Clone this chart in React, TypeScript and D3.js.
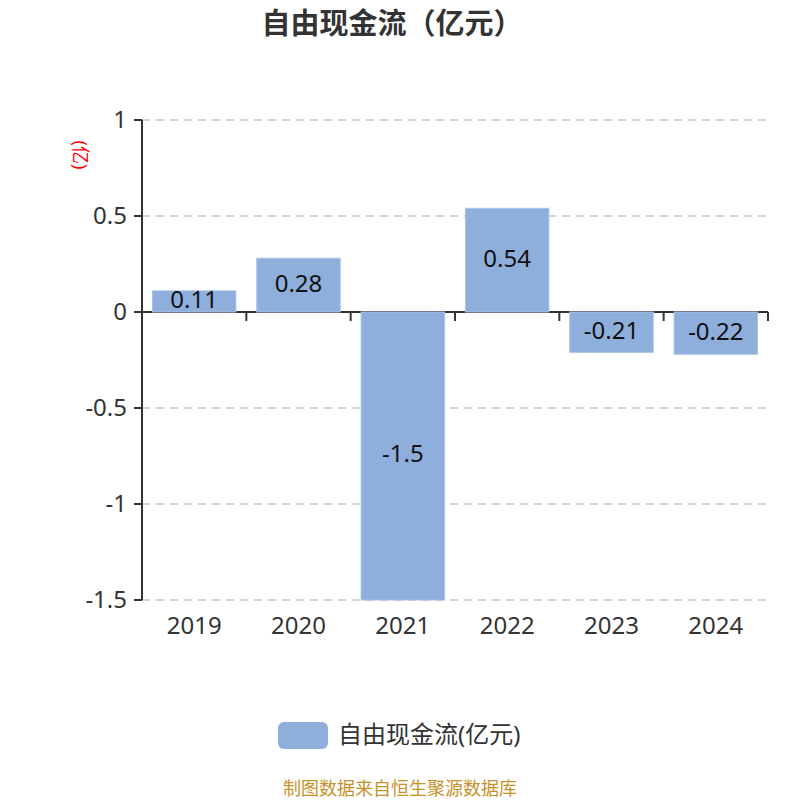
import React, { useRef, useEffect } from 'react';
import * as d3 from 'd3';

const years = ['2019', '2020', '2021', '2022', '2023', '2024'];
const values = [0.11, 0.28, -1.5, 0.54, -0.21, -0.22];
const yTicks = [1, 0.5, 0, -0.5, -1, -1.5];

const FONT = '"Noto Sans", "Noto Sans CJK SC", sans-serif';
const BAR_COLOR = '#8eaedb';
const TEXT_COLOR = '#333';

function drawChart(svgEle: SVGSVGElement) {
  const svg = d3.select(svgEle);
  svg.selectAll('*').remove();

  const margin = { top: 120, right: 32, bottom: 200, left: 142 };
  const width = 800 - margin.left - margin.right;
  const height = 800 - margin.top - margin.bottom;

  const x = d3
    .scaleBand()
    .domain(years)
    .range([margin.left, margin.left + width])
    .paddingInner(0.2)
    .paddingOuter(0.1);
  const y = d3
    .scaleLinear()
    .domain([-1.5, 1])
    .range([margin.top + height, margin.top]);

  // 标题
  svg
    .append('text')
    .attr('x', 392)
    .attr('y', 34)
    .attr('text-anchor', 'middle')
    .attr('font-size', 29)
    .attr('font-weight', 'bold')
    .attr('fill', TEXT_COLOR)
    .text('自由现金流（亿元）');

  // y 轴单位
  svg
    .append('text')
    .attr('transform', 'translate(74, 155) rotate(90)')
    .attr('text-anchor', 'middle')
    .attr('font-size', 18)
    .attr('fill', 'red')
    .text('(亿)');

  // 网格线
  svg
    .selectAll()
    .data(yTicks.filter((d) => d !== 0))
    .enter()
    .append('line')
    .attr('x1', margin.left)
    .attr('x2', margin.left + width)
    .attr('y1', (d) => y(d))
    .attr('y2', (d) => y(d))
    .attr('stroke', '#c8c8c8')
    .attr('stroke-width', 1.5)
    .attr('stroke-dasharray', '8,6');

  // y 轴
  svg
    .append('line')
    .attr('x1', margin.left)
    .attr('x2', margin.left)
    .attr('y1', margin.top)
    .attr('y2', margin.top + height)
    .attr('stroke', TEXT_COLOR)
    .attr('stroke-width', 2);
  svg
    .selectAll()
    .data(yTicks)
    .enter()
    .append('line')
    .attr('x1', margin.left - 8)
    .attr('x2', margin.left)
    .attr('y1', (d) => y(d))
    .attr('y2', (d) => y(d))
    .attr('stroke', TEXT_COLOR)
    .attr('stroke-width', 2);
  svg
    .selectAll()
    .data(yTicks)
    .enter()
    .append('text')
    .attr('x', margin.left - 15)
    .attr('y', (d) => y(d))
    .attr('dy', '0.35em')
    .attr('text-anchor', 'end')
    .attr('font-size', 24)
    .attr('fill', TEXT_COLOR)
    .text((d) => String(d));

  // x 轴（零线）
  const step = x.step();
  const boundaries = years.map((d) => (x(d) as number) - (step * x.paddingInner()) / 2).slice(1);
  boundaries.push(margin.left + width);
  svg
    .append('line')
    .attr('x1', margin.left)
    .attr('x2', margin.left + width)
    .attr('y1', y(0))
    .attr('y2', y(0))
    .attr('stroke', TEXT_COLOR)
    .attr('stroke-width', 2);
  svg
    .selectAll()
    .data(boundaries)
    .enter()
    .append('line')
    .attr('x1', (d) => d)
    .attr('x2', (d) => d)
    .attr('y1', y(0))
    .attr('y2', y(0) + 9)
    .attr('stroke', TEXT_COLOR)
    .attr('stroke-width', 2);

  // 柱子
  svg
    .selectAll()
    .data(values)
    .enter()
    .append('rect')
    .attr('x', (_d, i) => x(years[i]) as number)
    .attr('y', (d) => y(Math.max(0, d)))
    .attr('width', x.bandwidth())
    .attr('height', (d) => Math.abs(y(d) - y(0)))
    .attr('fill', BAR_COLOR)
    .attr('stroke', '#a9c1e6')
    .attr('stroke-width', 1);

  // 柱子数值
  svg
    .selectAll()
    .data(values)
    .enter()
    .append('text')
    .attr('x', (_d, i) => (x(years[i]) as number) + x.bandwidth() / 2)
    .attr('y', (d) => (y(d) + y(0)) / 2 - 2)
    .attr('dy', '0.35em')
    .attr('text-anchor', 'middle')
    .attr('font-size', 24)
    .attr('fill', '#111')
    .text((d) => String(d));

  // x 轴标签
  svg
    .selectAll()
    .data(years)
    .enter()
    .append('text')
    .attr('x', (d) => (x(d) as number) + x.bandwidth() / 2)
    .attr('y', margin.top + height + 26)
    .attr('dy', '0.35em')
    .attr('text-anchor', 'middle')
    .attr('font-size', 24)
    .attr('fill', TEXT_COLOR)
    .text((d) => d);

  // 图例
  svg
    .append('rect')
    .attr('x', 278)
    .attr('y', 722)
    .attr('width', 50)
    .attr('height', 27)
    .attr('rx', 6)
    .attr('fill', BAR_COLOR);
  svg
    .append('text')
    .attr('x', 338)
    .attr('y', 735)
    .attr('dy', '0.35em')
    .attr('font-size', 24)
    .attr('fill', TEXT_COLOR)
    .text('自由现金流(亿元)');

  // 数据来源
  svg
    .append('text')
    .attr('x', 400)
    .attr('y', 795)
    .attr('text-anchor', 'middle')
    .attr('font-size', 18)
    .attr('fill', '#c8922a')
    .text('制图数据来自恒生聚源数据库');
}

export default function App(): JSX.Element {
  const svgRef = useRef<SVGSVGElement>(null);

  useEffect(() => {
    if (svgRef.current == null) {
      return;
    }
    drawChart(svgRef.current);
  }, []);

  return (
    <svg
      ref={svgRef}
      width={800}
      height={800}
      style={{ position: 'absolute', left: 0, top: 0, fontFamily: FONT, background: '#fff' }}
    />
  );
}
